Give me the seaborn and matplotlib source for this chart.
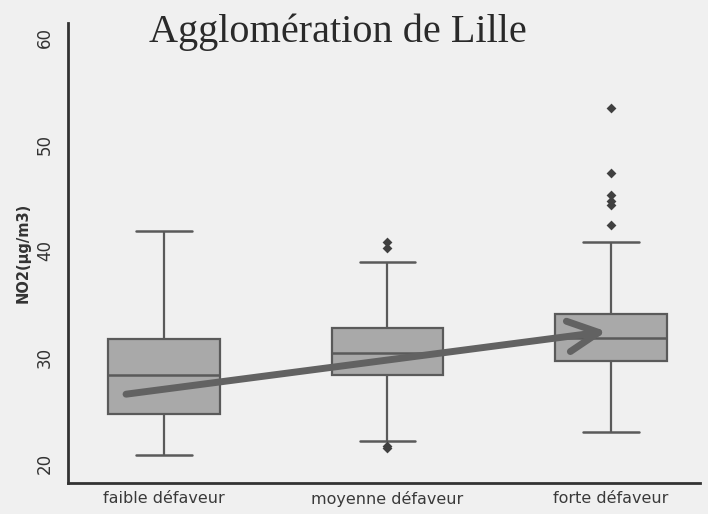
import numpy as np
import pandas as pd
import matplotlib
matplotlib.use("Agg")
import matplotlib.pyplot as plt
import seaborn as sns

# groups along x
categories = ["faible défaveur", "moyenne défaveur", "forte défaveur"]

# summary: lower whisker, Q1, median, Q3, upper whisker
whisker_low = [20.8, 22.1, 22.9]
q1 = [24.6, 28.3, 29.6]
median = [28.3, 30.4, 31.8]
q3 = [31.7, 32.7, 34.05]
whisker_high = [41.8, 38.9, 40.8]

# outlying points (NO2, µg/m3)
outliers_faible = []
outliers_moyenne = [40.8, 40.2, 21.6, 21.4]
outliers_forte = [53.45, 47.3, 45.2, 44.7, 44.3, 42.4]

# trend arrow (category position, value)
trend_start = (-0.17, 26.5)
trend_end = (1.98, 32.4)

yticks = [20, 30, 40, 50, 60]

bg = "#f0f0f0"
box_fill = "#a9a9a9"
line_col = "#5a5a5a"

# build long tables
rows = []
for i, cat in enumerate(categories):
    for v in (whisker_low[i], q1[i], median[i], q3[i], whisker_high[i]):
        rows.append({"groupe": cat, "no2": v})
box_df = pd.DataFrame(rows)

out_rows = []
for cat, vals in zip(categories, [outliers_faible, outliers_moyenne, outliers_forte]):
    for v in vals:
        out_rows.append({"groupe": cat, "no2": v})
out_df = pd.DataFrame(out_rows)

sns.set_style("white")
plt.rcParams["font.family"] = ["DejaVu Sans"]

fig = plt.figure(figsize=(7.08, 5.14), dpi=100, facecolor=bg)
ax = fig.add_axes([0.096, 0.0603, 0.893, 0.895])
ax.set_facecolor(bg)

sns.boxplot(data=box_df, x="groupe", y="no2", order=categories, ax=ax,
            whis=(0, 100), showfliers=False, width=0.5,
            color=box_fill, saturation=1, linecolor=line_col, linewidth=1.6,
            boxprops=dict(facecolor=box_fill, edgecolor=line_col),
            medianprops=dict(color=line_col, linewidth=1.8),
            whiskerprops=dict(color=line_col, linewidth=1.6),
            capprops=dict(color=line_col, linewidth=1.8))

sns.stripplot(data=out_df, x="groupe", y="no2", order=categories, ax=ax,
              jitter=False, marker="D", size=5, color="#404040",
              linewidth=0)

ax.annotate("", xy=trend_end, xytext=trend_start,
            arrowprops=dict(arrowstyle="->,head_length=1.1,head_width=0.55",
                            color="#626262", lw=5, mutation_scale=20,
                            capstyle="round", joinstyle="round",
                            shrinkA=0, shrinkB=0))

ax.set_xlim(-0.43, 2.4)
ax.set_ylim(18.15, 61.4)
ax.set_yticks(yticks)
ax.set_yticklabels([str(t) for t in yticks], rotation=90, va="center",
                   fontsize=12, color="#333333")
ax.tick_params(axis="y", length=6, width=1.5, color="#333333", pad=4)
ax.tick_params(axis="x", length=0, pad=6, labelsize=11.5, labelcolor="#3a3a3a")

ax.set_xlabel("")
ax.set_ylabel("NO2(µg/m3)", fontsize=10.5, fontweight="bold", color="#333333",
              labelpad=4)

for side in ("top", "right"):
    ax.spines[side].set_visible(False)
for side in ("left", "bottom"):
    ax.spines[side].set_color("#333333")
    ax.spines[side].set_linewidth(2)

fig.text(338 / 708, 1 - 32 / 514, "Agglomération de Lille",
         family="Liberation Serif", fontsize=29, color="#2a2a2a",
         ha="center", va="center")

fig.savefig("out.png", dpi=100, facecolor=bg)
